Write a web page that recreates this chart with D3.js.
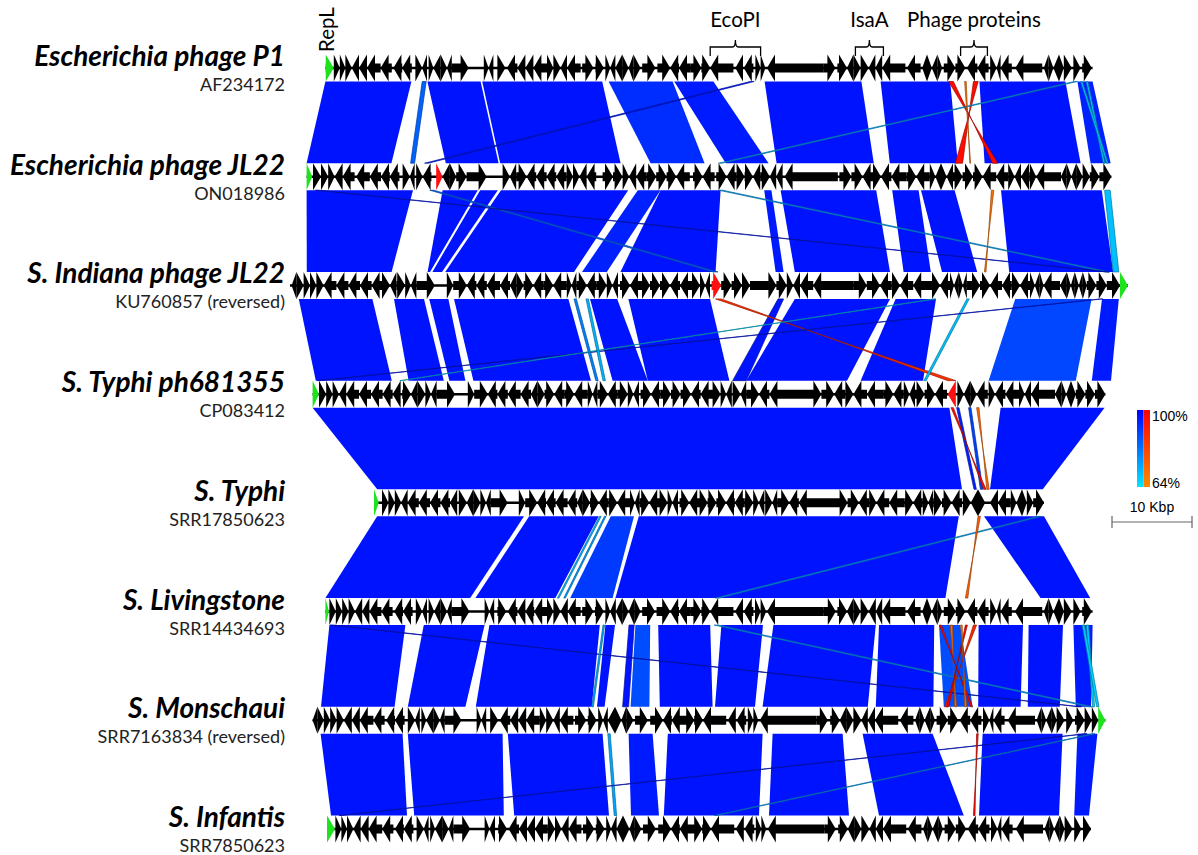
<!DOCTYPE html>
<html>
<head>
<meta charset="utf-8">
<script src="https://d3js.org/d3.v7.min.js"></script>
<style>
  body { margin: 0; background: #fff; }
  .name { font-family: Lato, "Open Sans", sans-serif; font-weight: bold; font-style: italic; font-size: 28px; }
  .acc { font-family: Lato, "Open Sans", sans-serif; font-size: 18px; }
  .anno { font-family: Lato, "Open Sans", sans-serif; font-size: 20.5px; }
  .leg { font-family: "Liberation Sans", Arial, sans-serif; font-size: 14px; }
</style>
</head>
<body>
<svg width="1198" height="855"></svg>
<script>
// genomes, top to bottom
const genomeNames = ["Escherichia phage P1", "Escherichia phage JL22", "S. Indiana phage JL22", "S. Typhi ph681355",
  "S. Typhi", "S. Livingstone", "S. Monschaui", "S. Infantis"];
const accessions = ["AF234172", "ON018986", "KU760857 (reversed)", "CP083412",
  "SRR17850623", "SRR14434693", "SRR7163834 (reversed)", "SRR7850623"];
const genomeLengths = [95.9, 100.6, 104.75, 99.1, 83.75, 95.9, 99.1, 95.5]; // kbp

// genes: [start kb, end kb, strand, kind]  kind 1 = RepL (green), 2 = red marker
const genesP1 = [[0,1.04,1,1],[1.05,1.8,1],[1.8,2.5,1],[2.5,3.3,1],[3.3,4.2,-1],[4.2,5.2,-1],[5.2,6.9,-1],[6.9,8.3,-1],[8.5,9.6,-1],[9.6,10.8,-1],[11.25,12.1,1],[12.1,12.7,-1],[12.9,13.5,1],[13.5,14.4,-1],[14.4,15.2,1],[15.2,15.8,-1],[15.8,17.9,1],[19.8,20.4,1],[20.4,21.0,-1],[21.5,22.5,1],[22.7,24.0,-1],[24.0,25.0,-1],[25.0,26.0,-1],[26.0,27.7,-1],[27.7,28.5,1],[28.5,29.4,1],[29.4,30.2,-1],[30.2,31.9,-1],[32.1,33.5,1],[33.75,34.8,1],[35.0,35.6,1],[35.6,36.25,-1],[36.25,37.1,-1],[37.1,37.9,1],[37.9,38.5,-1],[38.5,39.4,1],[39.6,41.25,1],[41.5,43.1,1],[43.1,44.2,-1],[44.2,45.6,-1],[45.6,47.0,1],[47.0,48.1,1],[48.1,51.0,-1],[51.25,52.2,-1],[52.3,53.5,-1],[53.75,54.4,1],[54.4,55.0,1],[55.2,62.3,-1],[62.3,63.75,1],[64.0,65.2,1],[65.2,66.0,-1],[66.0,66.9,1],[66.9,67.9,1],[67.9,68.75,-1],[68.75,69.6,-1],[69.6,72.5,-1],[72.7,74.4,-1],[74.6,75.2,-1],[75.2,75.8,1],[75.8,76.5,-1],[76.5,77.1,1],[77.3,78.75,1],[78.75,80.0,1],[80.2,81.5,-1],[81.5,82.9,-1],[83.1,83.9,1],[83.9,84.4,-1],[84.4,85.8,-1],[86.25,89.6,-1],[89.8,90.4,-1],[90.4,91.0,1],[91.0,91.7,-1],[91.7,92.3,1],[92.3,93.3,1],[93.5,94.4,1],[94.6,95.8,1]];
const genesJL22 = [[0,0.7,1,1],[0.8,1.8,1],[1.8,2.7,1],[2.7,3.5,1],[3.5,4.5,-1],[4.5,6.0,-1],[6.2,7.9,-1],[7.9,9.3,-1],[9.3,10.4,-1],[10.4,11.6,-1],[12.0,12.9,1],[12.9,13.5,-1],[13.7,14.5,1],[14.5,15.6,-1],[16.2,17.0,1,2],[17.0,17.9,-1],[17.9,18.7,1],[18.7,20.0,1],[20.0,22.5,1],[24.5,25.4,1],[25.4,26.2,-1],[26.2,27.5,1],[27.5,28.7,-1],[28.7,30.0,-1],[30.0,31.2,-1],[31.2,32.5,-1],[32.5,33.3,1],[33.3,34.1,1],[34.1,35.0,-1],[35.0,36.2,-1],[37.0,38.3,1],[38.3,39.5,1],[39.5,40.3,1],[40.3,41.2,-1],[41.2,42.5,-1],[42.5,43.7,1],[43.7,45.0,1],[45.0,46.2,1],[46.2,47.9,-1],[48.3,49.5,1],[49.5,51.0,-1],[51.2,52.5,1],[52.5,53.7,-1],[53.7,54.75,1],[54.75,55.8,1],[55.8,56.7,-1],[56.7,57.9,1],[57.9,58.7,-1],[58.7,59.5,-1],[59.75,66.4,-1],[66.6,68.1,1],[68.1,69.5,1],[69.5,70.8,-1],[70.8,71.8,1],[71.8,73.1,-1],[73.1,75.0,-1],[75.0,76.2,1],[76.2,77.9,-1],[77.9,78.6,1],[78.6,79.3,-1],[79.3,80.0,1],[80.0,80.8,-1],[80.8,82.0,1],[82.0,83.3,1],[83.3,84.5,1],[84.5,86.2,-1],[86.2,87.7,-1],[87.7,88.5,1],[88.5,89.3,-1],[89.3,90.4,-1],[90.4,91.2,1],[91.2,94.3,-1],[94.3,95.0,-1],[95.0,95.6,1],[95.6,96.2,-1],[96.2,97.0,1],[97.0,97.9,1],[97.9,99.1,1],[99.1,100.6,1]];
const genesIndiana = [[0.2,0.8,-1],[0.8,1.7,1],[1.7,2.5,1],[2.5,3.3,1],[3.3,4.2,1],[4.2,5.8,-1],[5.8,7.3,-1],[7.3,8.75,-1],[8.75,10.2,-1],[10.2,11.25,-1],[11.25,12.5,1],[12.5,13.3,-1],[13.3,14.4,1],[14.4,15.1,1],[15.1,15.8,-1],[15.8,18.1,1],[19.6,20.4,1],[20.4,22.1,1],[22.1,23.3,-1],[23.3,24.6,-1],[24.6,26.25,-1],[26.25,27.5,-1],[27.5,28.3,-1],[28.3,29.2,1],[29.2,30.4,1],[30.4,31.7,-1],[31.7,32.9,1],[32.9,34.6,-1],[34.6,35.2,1],[35.2,35.8,-1],[35.8,37.1,1],[37.1,38.3,-1],[38.3,39.6,1],[39.6,40.3,1],[40.3,41.0,-1],[41.25,42.5,1],[42.5,43.75,-1],[43.75,45.0,1],[45.0,46.25,1],[46.25,47.5,1],[47.5,48.75,-1],[48.75,50.0,-1],[50.0,51.25,1],[51.25,51.9,1],[51.9,52.5,-1],[52.7,53.9,1,2],[53.9,55.2,1],[55.2,56.5,1],[56.5,57.5,1],[57.5,60.8,1],[60.8,62.1,1],[62.1,62.9,1],[62.9,63.75,-1],[63.75,65.4,-1],[65.4,70.4,-1],[70.4,72.1,1],[72.1,73.75,1],[73.75,75.2,-1],[75.2,76.25,1],[76.25,77.9,-1],[77.9,80.0,-1],[80.0,81.25,1],[81.25,82.5,-1],[82.5,83.0,1],[83.0,83.6,-1],[83.6,84.1,1],[84.1,84.6,-1],[84.6,86.25,1],[86.25,87.5,1],[87.5,89.0,-1],[89.0,90.2,-1],[90.2,91.25,1],[91.25,92.5,-1],[92.5,93.1,1],[93.1,93.7,-1],[93.7,94.2,1],[94.2,96.25,-1],[96.25,97.1,-1],[97.1,97.6,1],[97.6,98.1,-1],[98.1,98.6,1],[98.6,99.1,-1],[99.1,99.6,1],[99.6,100.8,1],[100.8,102.1,1],[102.1,103.75,1],[103.75,104.75,1,1]];
const genesPh = [[0,0.8,1,1],[0.8,1.7,1],[1.7,2.5,1],[2.5,3.3,1],[3.3,4.2,-1],[4.2,5.8,-1],[5.8,7.3,-1],[7.3,8.75,-1],[8.75,10.0,-1],[10.0,11.0,-1],[11.2,12.3,1],[12.3,13.1,-1],[13.1,14.1,1],[14.1,14.8,1],[14.8,15.5,-1],[15.5,17.8,1],[19.4,20.2,1],[20.2,21.9,1],[21.9,23.1,-1],[23.1,24.4,-1],[24.4,26.0,-1],[26.0,27.3,-1],[27.3,28.1,-1],[28.1,29.0,1],[29.0,30.2,1],[30.2,31.5,-1],[31.5,32.7,1],[32.7,34.4,-1],[34.4,35.0,1],[35.0,35.6,-1],[35.6,36.9,1],[36.9,38.1,-1],[38.1,39.4,1],[39.4,40.1,1],[40.1,40.8,-1],[41.0,42.3,1],[42.3,43.5,-1],[43.5,44.8,1],[44.8,46.0,1],[46.0,47.3,1],[47.3,48.5,-1],[48.5,49.8,-1],[49.8,51.0,1],[51.0,51.7,1],[51.7,52.4,-1],[52.5,53.5,1],[53.5,54.2,-1],[54.2,55.8,1],[55.8,57.1,-1],[57.1,61.8,-1],[61.8,63.6,1],[63.6,65.2,1],[65.2,66.6,-1],[66.6,67.6,1],[67.6,69.3,-1],[69.3,71.4,-1],[71.4,72.6,1],[72.6,73.9,-1],[73.9,74.6,1],[74.6,75.3,-1],[75.3,76.5,1],[76.5,77.8,1],[77.8,79.3,-1],[79.4,80.4,-1,2],[80.6,81.4,1],[81.4,82.2,-1],[82.2,83.0,1],[83.0,84.4,-1],[84.5,85.3,1],[85.3,86.6,-1],[86.6,88.3,-1],[88.3,89.0,1],[89.0,89.8,-1],[89.8,92.8,-1],[92.8,93.6,-1],[93.6,94.2,1],[94.2,94.8,-1],[94.8,95.4,1],[95.4,96.6,1],[96.6,97.8,1],[97.8,99.1,1]];
const genesTyphi = [[0,0.6,1,1],[1.0,1.8,1],[1.8,2.6,1],[2.6,3.4,1],[3.4,4.2,-1],[4.2,5.6,-1],[5.6,7.0,-1],[7.0,8.3,-1],[8.3,9.5,-1],[9.5,10.4,-1],[10.6,11.6,1],[11.6,12.4,-1],[12.4,13.3,1],[13.3,14.0,1],[14.0,14.6,-1],[14.6,16.7,1],[18.1,18.9,1],[18.9,20.4,1],[20.4,21.5,-1],[21.5,22.7,-1],[22.7,24.2,-1],[24.2,25.4,-1],[25.4,26.1,-1],[26.1,27.0,1],[27.0,28.1,1],[28.1,29.3,-1],[29.3,30.4,1],[30.4,32.0,-1],[32.0,32.6,1],[32.6,33.2,-1],[33.2,34.4,1],[34.4,35.5,-1],[35.5,36.7,1],[36.7,37.3,1],[37.3,38.0,-1],[38.2,39.4,1],[39.4,40.5,-1],[40.5,41.7,1],[41.7,42.8,1],[42.8,44.0,1],[44.0,45.1,-1],[45.1,46.3,-1],[46.3,47.4,1],[47.4,48.1,1],[48.1,48.8,-1],[48.9,49.8,1],[49.8,50.4,-1],[50.4,51.9,1],[51.9,53.1,-1],[53.1,57.5,-1],[57.5,59.2,1],[59.2,60.6,1],[60.6,61.9,-1],[61.9,62.8,1],[62.8,64.4,-1],[64.4,66.3,-1],[66.3,67.4,1],[67.4,68.6,-1],[68.6,69.3,1],[69.3,69.9,-1],[69.9,71.0,1],[71.0,72.2,1],[72.2,73.5,-1],[73.6,74.6,1],[74.6,75.5,-1],[75.5,76.4,1],[77.0,78.0,-1],[78.0,79.6,-1],[79.6,80.3,1],[80.3,81.0,-1],[81.0,81.6,1],[81.6,82.4,1],[82.4,83.75,1]];
const genesLiv = [[0,0.45,1,1],[0.5,1.3,1],[1.3,2.1,1],[2.1,2.9,1],[2.9,3.7,1],[3.7,4.6,-1],[4.6,5.5,-1],[5.5,7.0,-1],[7.0,8.4,-1],[8.6,9.7,-1],[9.7,10.9,-1],[11.3,12.1,1],[12.1,12.7,-1],[12.9,13.6,1],[13.6,14.4,-1],[14.4,15.2,1],[15.2,15.8,-1],[15.8,18.0,1],[19.9,20.5,1],[20.5,21.1,-1],[21.5,22.6,1],[22.8,24.0,-1],[24.0,25.0,-1],[25.0,26.1,-1],[26.1,27.7,-1],[27.7,28.5,1],[28.5,29.4,1],[29.4,30.3,-1],[30.3,31.9,-1],[32.1,33.5,1],[33.7,34.8,1],[35.0,35.6,1],[35.6,36.3,-1],[36.3,37.1,-1],[37.1,37.9,1],[37.9,38.6,-1],[38.6,39.4,1],[39.6,41.2,1],[41.4,43.1,1],[43.1,44.2,-1],[44.2,45.6,-1],[45.6,47.0,1],[47.0,48.1,1],[48.1,51.0,-1],[51.2,52.2,-1],[52.3,53.5,-1],[53.7,54.4,1],[54.4,55.1,1],[55.2,62.3,-1],[62.3,63.8,1],[64.0,65.2,1],[65.2,66.0,-1],[66.0,66.9,1],[66.9,67.9,1],[67.9,68.8,-1],[68.8,69.6,-1],[69.6,72.5,-1],[72.7,74.4,-1],[74.6,75.2,-1],[75.2,75.8,1],[75.8,76.5,-1],[76.5,77.1,1],[77.3,78.8,1],[78.8,80.0,1],[80.2,81.5,-1],[81.5,82.9,-1],[83.1,83.9,1],[83.9,84.4,-1],[84.4,85.8,-1],[86.2,89.6,-1],[89.8,90.4,-1],[90.4,91.0,1],[91.0,91.7,-1],[91.7,92.3,1],[92.3,93.3,1],[93.5,94.4,1],[94.6,95.8,1]];
const genesMon = [[0,0.6,-1],[0.6,1.4,1],[1.4,2.2,1],[2.2,3.0,1],[3.0,3.9,1],[3.9,4.9,-1],[4.9,5.9,-1],[5.9,7.6,-1],[7.6,9.0,-1],[9.2,10.3,-1],[10.3,11.5,-1],[11.9,12.8,1],[12.8,13.4,-1],[13.6,14.2,1],[14.2,15.1,-1],[15.1,15.9,1],[15.9,16.5,-1],[16.5,18.6,1],[20.5,21.1,1],[21.1,21.7,-1],[22.2,23.2,1],[23.4,24.7,-1],[24.7,25.7,-1],[25.7,26.7,-1],[26.7,28.4,-1],[28.4,29.2,1],[29.2,30.1,1],[30.1,30.9,-1],[30.9,32.6,-1],[32.8,34.2,1],[34.4,35.5,1],[35.7,36.3,1],[36.3,36.9,-1],[36.9,37.8,-1],[37.8,38.6,1],[38.6,39.2,-1],[39.2,40.1,1],[40.3,41.9,1],[42.2,43.8,1],[43.8,44.9,-1],[44.9,46.3,-1],[46.3,47.7,1],[47.7,48.8,1],[48.8,51.7,-1],[51.9,52.9,-1],[53.0,54.2,-1],[54.4,55.1,1],[55.1,55.7,1],[55.9,63.0,-1],[63.0,64.4,1],[64.7,65.9,1],[65.9,66.7,-1],[66.7,67.6,1],[67.6,68.6,1],[68.6,69.4,-1],[69.4,70.3,-1],[70.3,73.2,-1],[73.4,75.1,-1],[75.3,75.9,-1],[75.9,76.5,1],[76.5,77.2,-1],[77.2,77.8,1],[78.0,79.4,1],[79.4,80.7,1],[80.9,82.2,-1],[82.2,83.6,-1],[83.8,84.6,1],[84.6,85.1,-1],[85.1,86.5,-1],[86.9,90.3,-1],[90.5,91.1,-1],[91.1,91.7,1],[91.7,92.4,-1],[92.4,93.0,1],[93.0,94.0,1],[94.2,95.1,1],[95.3,96.5,1],[96.5,97.4,1],[97.4,98.2,1],[98.2,99.1,1,1]];
const genesInf = [[0,1.0,1,1],[1.05,1.8,1],[1.8,2.5,1],[2.5,3.3,1],[3.3,4.2,-1],[4.2,5.2,-1],[5.2,6.9,-1],[6.9,8.3,-1],[8.5,9.6,-1],[9.6,10.8,-1],[11.2,12.1,1],[12.1,12.7,-1],[12.9,13.5,1],[13.5,14.4,-1],[14.4,15.2,1],[15.2,15.8,-1],[15.8,17.9,1],[19.7,20.3,1],[20.3,21.0,-1],[21.4,22.5,1],[22.7,24.0,-1],[24.0,25.0,-1],[25.0,26.0,-1],[26.0,27.6,-1],[27.6,28.5,1],[28.5,29.3,1],[29.3,30.2,-1],[30.2,31.8,-1],[32.0,33.4,1],[33.6,34.7,1],[34.9,35.5,1],[35.5,36.2,-1],[36.2,37.0,-1],[37.0,37.8,1],[37.8,38.4,-1],[38.4,39.3,1],[39.5,41.1,1],[41.4,43.0,1],[43.0,44.1,-1],[44.1,45.5,-1],[45.5,46.9,1],[46.9,48.0,1],[48.0,50.9,-1],[51.1,52.1,-1],[52.2,53.4,-1],[53.6,54.3,1],[54.3,54.9,1],[55.1,62.2,-1],[62.2,63.6,1],[63.9,65.1,1],[65.1,65.9,-1],[65.9,66.8,1],[66.8,67.8,1],[67.8,68.6,-1],[68.6,69.5,-1],[69.5,72.4,-1],[72.6,74.3,-1],[74.5,75.1,-1],[75.1,75.7,1],[75.7,76.4,-1],[76.4,77.0,1],[77.2,78.6,1],[78.6,79.9,1],[80.1,81.4,-1],[81.4,82.8,-1],[83.0,83.8,1],[83.8,84.3,-1],[84.3,85.7,-1],[86.1,89.5,-1],[89.7,90.3,-1],[90.3,90.9,1],[90.9,91.6,-1],[91.6,92.2,1],[92.2,93.2,1],[93.4,94.3,1],[94.5,95.5,1]];
const geneLists = [genesP1, genesJL22, genesIndiana, genesPh, genesTyphi, genesLiv, genesMon, genesInf];

// BLAST hits between neighbouring genomes: [upper start, upper end, lower start, lower end, identity %, inverted]
const hits1 = [[0,10.75,0,10.6,97,0],[12.1,12.6,13.0,13.5,85,0],[12.75,19.4,17.4,24.0,97,0],[19.6,34.6,24.2,39.25,97,0],[35.4,43.4,43.0,49.75,93,0],[43.6,48.5,52.4,57.75,96,0],[53.1,53.6,14.75,15.2,96,0],[54.9,67.0,58.75,70.9,97,0],[69.4,78.1,72.9,81.4,97,0],[77.9,78.5,85.75,86.4,98,1],[81.0,81.6,81.1,82.0,97,1],[79.9,80.1,82.9,83.0,70,1],[81.75,92.5,84.75,96.75,97,0],[93.6,94.0,51.5,51.9,72,0],[94.0,95.9,98.0,100.5,95,0],[95.1,95.3,99.6,99.8,68,0],[94.4,94.6,100.0,100.2,68,0]];
const hits2 = [[0,13.3,2.1,12.7,97,0],[17.0,21.4,17.2,17.5,97,0],[21.7,23.9,17.8,19.0,97,0],[24.3,40.2,19.4,35.5,97,0],[41.4,44.25,36.5,39.6,95,0],[44.25,51.75,41.3,53.2,97,0],[57.2,58.1,60.7,61.7,96,0],[59.25,71.2,63.1,75.0,97,0],[73.2,76.5,76.7,80.1,97,0],[76.8,81.0,81.5,85.9,97,0],[85.6,85.9,86.8,87.0,70,1],[86.8,99.4,89.9,102.9,97,0],[99.75,100.45,102.9,103.6,70,0],[1.1,1.5,102.0,102.4,96,0],[15.4,15.9,52.9,53.5,84,0],[51.5,52.0,101.9,102.4,74,0]];
const hits3 = [[1.1,10.3,0.4,9.9,97,0],[13.0,16.75,12.0,16.4,97,0],[17.4,19.8,17.1,19.1,97,0],[20.5,34.8,20.1,34.8,97,0],[37.5,40.9,37.5,41.9,97,0],[42.3,52.5,41.9,52.1,97,0],[61.0,61.7,52.5,54.2,97,0],[63.1,75.0,54.2,66.8,97,0],[75.7,80.75,68.5,76.3,97,0],[53.2,53.9,79.4,80.4,88,1],[84.6,84.9,76.4,76.7,70,0],[90.65,100.2,84.5,95.4,89,0],[101.5,103.6,97.4,99.8,96,0],[101.3,101.6,0.6,0.9,96,0],[80.5,80.7,10.9,11.1,66,0],[37.0,37.3,36.3,36.6,72,0],[35.5,35.8,35.4,35.7,80,0]];
const hits4 = [[0,79.6,0.4,73.5,97,0],[80.5,80.8,75.0,75.3,95,0],[82.0,82.3,75.8,76.1,90,0],[79.8,80.1,76.2,76.5,97,1],[83.0,83.3,76.6,76.9,72,1],[86.0,99.0,77.0,83.6,97,0]];
const hits5 = [[0.4,18.75,0,18.1,97,0],[19.4,28.1,18.75,28.75,97,0],[29.6,32.5,30.6,35.9,91,0],[28.2,28.4,29.0,29.2,72,0],[28.8,29.0,29.8,30.0,76,0],[33.1,73.1,36.25,77.5,97,0],[75.5,75.8,80.0,80.3,75,1],[76.25,83.75,89.4,95.6,97,0],[83.0,83.4,48.75,49.25,74,0]];
const hits6 = [[0.5,10.0,1.05,10.25,97,0],[12.3,19.9,11.9,19.1,97,0],[20.5,34.3,20.4,34.9,97,0],[34.7,34.9,34.9,35.1,74,0],[35.0,36.2,35.55,36.5,97,0],[37.95,38.6,38.75,39.5,97,0],[38.75,40.6,39.75,42.1,88,0],[41.6,48.1,43.4,50.0,97,0],[49.5,54.7,50.3,55.3,97,0],[56.0,68.8,56.25,69.4,97,0],[69.2,76.1,70.4,77.6,97,0],[76.7,79.35,78.9,82.5,88,0],[76.75,77.0,82.25,82.5,98,1],[81.0,81.4,79.0,79.4,90,1],[78.1,78.4,80.25,80.5,72,1],[79.4,79.6,81.5,81.75,70,1],[80.0,80.25,79.25,79.5,99,1],[81.65,87.2,83.2,88.5,97,0],[87.9,92.2,89.4,93.4,97,0],[93.5,95.9,95.4,97.3,96,0],[95.1,95.4,97.5,97.75,68,0],[94.6,94.9,98.0,98.3,68,0],[0.6,1.0,95.75,96.1,96,0],[48.6,49.1,97.0,97.5,74,0]];
const hits7 = [[1.0,11.25,0.5,10.0,97,0],[11.9,23.75,10.9,22.1,97,0],[24.4,36.25,23.4,35.25,97,0],[36.9,37.2,35.9,36.2,74,0],[39.5,42.5,38.0,41.5,96,0],[44.4,56.25,42.1,54.0,97,0],[57.5,66.25,55.25,65.25,97,0],[68.75,77.5,69.0,79.6,97,0],[83.75,93.75,81.5,91.5,97,0],[95.6,98.1,93.4,95.25,96,0],[96.5,96.8,1.5,1.8,96,0],[97.5,97.8,48.4,48.7,74,0],[83.0,83.2,80.8,81.0,98,1]];
const hitLists = [hits1, hits2, hits3, hits4, hits5, hits6, hits7];

// features labelled above P1 (kb on P1)
const annoLabels = ["EcoPI", "IsaA", "Phage proteins"];
const annoStart = [48.1, 66.25, 79.4];
const annoEnd = [54.4, 69.75, 82.75];
const legendTicks = ["100%", "64%"];
const identityRange = [64, 100];
const scaleBarKb = 10;

const svg = d3.select("svg");
const centerX = 709;
const kbScale = d3.scaleLinear().domain([0, 10]).range([0, 80]);
const yTrack = d3.scalePoint().domain(d3.range(genomeNames.length)).range([68, 829]);
const x0 = i => centerX - kbScale(genomeLengths[i]) / 2;
const gx = (i, v) => x0(i) + kbScale(v);

const t = d3.scaleLinear().domain(identityRange).range([0, 1]).clamp(true);
const fwdCol = d3.interpolateRgb("#00e8ff", "#0000ff");
const invCol = d3.interpolateRgb("#ff8a00", "#ff0000");
const hitColor = h => h[5] ? invCol(t(h[4])) : fwdCol(t(h[4]));

const halfBand = 13.5;

// comparison polygons
hitLists.forEach((hits, b) => {
  const yT = yTrack(b) + halfBand, yB = yTrack(b + 1) - halfBand;
  const sorted = hits.slice().sort((p, q) => (q[1] - q[0]) - (p[1] - p[0]));
  svg.append("g").selectAll("polygon").data(sorted).enter().append("polygon")
    .attr("points", h => {
      const a = [gx(b, h[0]), yT], c = [gx(b, h[1]), yT];
      let d = [gx(b + 1, h[3]), yB], e = [gx(b + 1, h[2]), yB];
      if (h[5]) { d = [gx(b + 1, h[2]), yB]; e = [gx(b + 1, h[3]), yB]; }
      return [a, c, d, e].map(p => p.join(",")).join(" ");
    })
    .attr("fill", hitColor)
    .attr("stroke", h => (kbScale(h[1] - h[0]) < 6) ? d3.color(hitColor(h)).darker(1.4) : "none")
    .attr("stroke-width", 0.7);
});

// gene tracks
const bodyH = 4.5, headH = 13.5, headLen = 8;
const geneColor = g => g[3] === 1 ? "#1de21d" : g[3] === 2 ? "#ff1010" : "#000";
geneLists.forEach((genes, i) => {
  const y = yTrack(i);
  const g = svg.append("g");
  g.append("line").attr("x1", gx(i, 0)).attr("x2", gx(i, genomeLengths[i]))
    .attr("y1", y).attr("y2", y).attr("stroke", "#000").attr("stroke-width", 2.5);
  g.selectAll("polygon").data(genes).enter().append("polygon")
    .attr("points", d => {
      const s = gx(i, d[0]), e = gx(i, d[1]);
      const h = Math.min(e - s, headLen);
      let pts;
      if (d[2] > 0) {
        pts = [[s, y - bodyH], [e - h, y - bodyH], [e - h, y - headH], [e, y], [e - h, y + headH], [e - h, y + bodyH], [s, y + bodyH]];
      } else {
        pts = [[e, y - bodyH], [s + h, y - bodyH], [s + h, y - headH], [s, y], [s + h, y + headH], [s + h, y + bodyH], [e, y + bodyH]];
      }
      return pts.map(p => p.join(",")).join(" ");
    })
    .attr("fill", geneColor);
});

// labels
const lab = svg.append("g");
genomeNames.forEach((n, i) => {
  lab.append("text").attr("class", "name").attr("x", 285).attr("y", yTrack(i) - 2)
    .attr("text-anchor", "end").text(n);
  lab.append("text").attr("class", "acc").attr("x", 285).attr("y", yTrack(i) + 23)
    .attr("text-anchor", "end").attr("fill", "#222").text(accessions[i]);
});

// annotations above P1
svg.append("text").attr("class", "anno").attr("font-size", 19)
  .attr("transform", `translate(${gx(0, 0) + 9},52) rotate(-90)`).text("RepL");
annoLabels.forEach((l, k) => {
  const a = gx(0, annoStart[k]), b = gx(0, annoEnd[k]), m = (a + b) / 2;
  svg.append("path")
    .attr("d", `M${a},56 L${a},47 L${m - 3},47 Q${m},47 ${m},40 Q${m},47 ${m + 3},47 L${b},47 L${b},56`)
    .attr("fill", "none").attr("stroke", "#000").attr("stroke-width", 1.3);
  svg.append("text").attr("class", "anno").attr("x", m).attr("y", 27)
    .attr("text-anchor", "middle").text(l);
});

// legend
const defs = svg.append("defs");
const mkGrad = (id, top, bot) => {
  const gr = defs.append("linearGradient").attr("id", id).attr("x1", 0).attr("x2", 0).attr("y1", 0).attr("y2", 1);
  gr.append("stop").attr("offset", 0).attr("stop-color", top);
  gr.append("stop").attr("offset", 1).attr("stop-color", bot);
};
mkGrad("gf", fwdCol(1), fwdCol(0));
mkGrad("gi", invCol(1), invCol(0));
const ly = d3.scaleLinear().domain(identityRange).range([487, 410]);
svg.append("rect").attr("x", 1137).attr("y", ly(100)).attr("width", 6.5).attr("height", ly(64) - ly(100)).attr("fill", "url(#gf)");
svg.append("rect").attr("x", 1143.5).attr("y", ly(100)).attr("width", 6.5).attr("height", ly(64) - ly(100)).attr("fill", "url(#gi)");
svg.append("text").attr("class", "leg").attr("x", 1152).attr("y", ly(100) + 11).text(legendTicks[0]);
svg.append("text").attr("class", "leg").attr("x", 1152).attr("y", ly(64) + 1).text(legendTicks[1]);

const sb = svg.append("g").attr("stroke", "#666").attr("stroke-width", 1.2);
const sx = 1112, sw = kbScale(scaleBarKb);
sb.append("line").attr("x1", sx).attr("x2", sx + sw).attr("y1", 522).attr("y2", 522);
sb.append("line").attr("x1", sx).attr("x2", sx).attr("y1", 516).attr("y2", 528);
sb.append("line").attr("x1", sx + sw).attr("x2", sx + sw).attr("y1", 516).attr("y2", 528);
svg.append("text").attr("class", "leg").attr("x", sx + sw / 2).attr("y", 512).attr("text-anchor", "middle")
  .attr("font-size", 13).text(scaleBarKb + " Kbp");
</script>
</body>
</html>
